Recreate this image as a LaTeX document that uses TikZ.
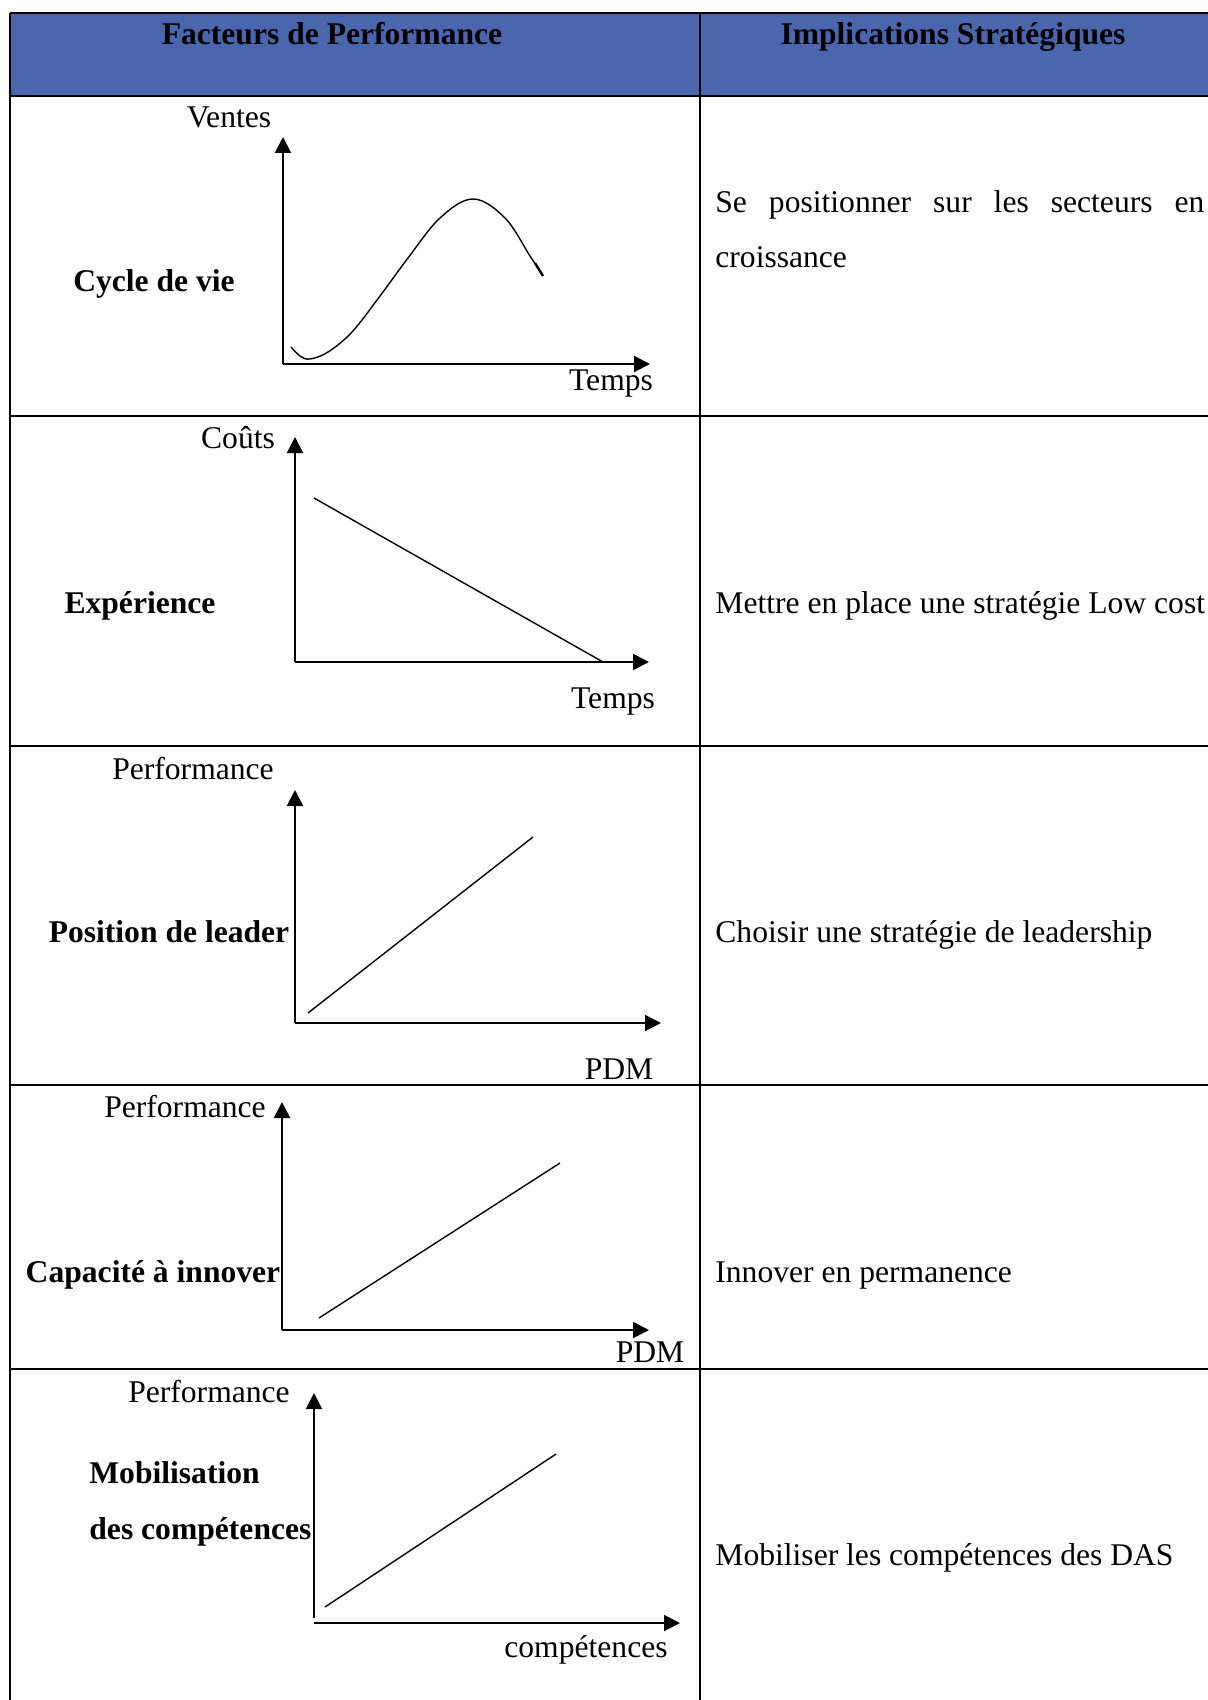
\documentclass[tikz,border=0pt]{standalone}
\usepackage{fontspec}
\setmainfont{Liberation Serif}
\usetikzlibrary{arrows.meta}
\definecolor{hdrblue}{HTML}{4A66AC}
\begin{document}
\begin{tikzpicture}[x=0.5pt,y=-0.5pt,
  font=\fontsize{15.8}{19}\selectfont,
  rule/.style={line width=1pt},
  axis/.style={line width=1pt,-{Triangle[length=8pt,width=8pt]}},
  curve/.style={line width=0.7pt},
  lbl/.style={inner sep=0pt,anchor=base},
  ttl/.style={inner sep=0pt,anchor=base,font=\fontsize{15.8}{19}\selectfont\bfseries},
  txt/.style={inner sep=0pt,anchor=base west}]
\useasboundingbox (0,0) rectangle (1208,1700);
\fill[white] (0,0) rectangle (1208,1700);

% header band
\fill[hdrblue] (10,13) rectangle (1208,96);

% table rules
\draw[rule] (10,13) -- (1208,13);
\draw[rule] (10,13) -- (10,1700);
\draw[rule] (700,13) -- (700,1700);
\foreach \yy in {96,416,746,1085,1369}
  \draw[rule] (10,\yy) -- (1208,\yy);

% header texts
\node[ttl] (h1) at (332,45) {Facteurs de Performance};
\node[ttl] (h2) at (953,45) {Implications Stratégiques};

% ---- row 1: life cycle
\coordinate (o1) at (283,364);
\coordinate (y1) at (283,137);
\coordinate (x1) at (650,364);
\draw[axis] (o1) -- (y1);
\draw[axis] (o1) -- (x1);
\draw[curve] plot[smooth,tension=0.6] coordinates {
  (291,347) (300,356) (310,359) (328,352) (352,332) (380,296) (408,258)
  (440,218) (473,199) (505,218) (530,256) (542,274)};
\draw[line width=1.2pt] (535,263) -- (543,276);
\node[lbl] (v1) at (229,128) {Ventes};
\node[lbl] (t1) at (611,391) {Temps};
\node[ttl] (f1) at (154,292) {Cycle de vie};
\node[txt] (r1a) at (715,213) {\makebox[244.5pt][s]{Se positionner sur les secteurs en}};
\node[txt] (r1b) at (715,268) {croissance};

% ---- row 2: experience
\coordinate (o2) at (295,662);
\coordinate (y2) at (295,437);
\coordinate (x2) at (649,662);
\draw[axis] (o2) -- (y2);
\draw[axis] (o2) -- (x2);
\coordinate (a2) at (314,498);
\coordinate (b2) at (603,662);
\draw[curve] (a2) -- (b2);
\node[lbl] (v2) at (238,448) {Coûts};
\node[lbl] (t2) at (613,708) {Temps};
\node[ttl] (f2) at (140,613) {Expérience};
\node[txt] (r2) at (715,613) {Mettre en place une stratégie Low cost};

% ---- row 3: leadership
\coordinate (o3) at (295,1023);
\coordinate (y3) at (295,790);
\coordinate (x3) at (661,1023);
\draw[axis] (o3) -- (y3);
\draw[axis] (o3) -- (x3);
\coordinate (a3) at (308,1013);
\coordinate (b3) at (533,837);
\draw[curve] (a3) -- (b3);
\node[lbl] (v3) at (193,779) {Performance};
\node[lbl] (t3) at (619,1079) {PDM};
\node[ttl] (f3) at (169,942) {Position de leader};
\node[txt] (r3) at (715,942) {Choisir une stratégie de leadership};

% ---- row 4: innovation
\coordinate (o4) at (282,1330);
\coordinate (y4) at (282,1102);
\coordinate (x4) at (649,1330);
\draw[axis] (o4) -- (y4);
\draw[axis] (o4) -- (x4);
\coordinate (a4) at (319,1318);
\coordinate (b4) at (560,1163);
\draw[curve] (a4) -- (b4);
\node[lbl] (v4) at (185,1117) {Performance};
\node[lbl] (t4) at (650,1362) {PDM};
\node[ttl] (f4) at (153,1282) {Capacité à innover};
\node[txt] (r4) at (715,1282) {Innover en permanence};

% ---- row 5: skills
\coordinate (o5) at (314,1618);
\coordinate (y5) at (314,1393);
\coordinate (o5h) at (314,1623);
\coordinate (x5) at (680,1623);
\draw[axis] (o5) -- (y5);
\draw[axis] (o5h) -- (x5);
\coordinate (a5) at (325,1607);
\coordinate (b5) at (556,1454);
\draw[curve] (a5) -- (b5);
\node[lbl] (v5) at (209,1402) {Performance};
\node[lbl] (t5) at (586,1657) {compétences};
\node[ttl,anchor=base west] (f5a) at (89,1483) {Mobilisation};
\node[ttl,anchor=base west] (f5b) at (89,1539) {des compétences};
\node[txt] (r5) at (715,1565) {Mobiliser les compétences des DAS};
\end{tikzpicture}
\end{document}
